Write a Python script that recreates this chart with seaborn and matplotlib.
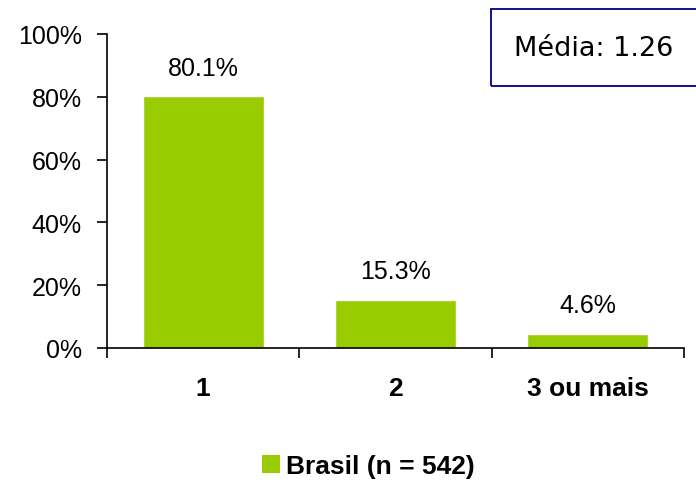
import matplotlib
matplotlib.use("Agg")
import matplotlib.pyplot as plt
import seaborn as sns
import pandas as pd
from matplotlib.patches import Rectangle, Patch
from matplotlib.ticker import FixedLocator, PercentFormatter

# Daten
categories = ["1", "2", "3 ou mais"]
values = [80.1, 15.3, 4.6]
series_name = "Brasil (n = 542)"
media_text = "Média: 1.26"
bar_color = "#99CC00"

df = pd.DataFrame({"cat": categories, "pct": values})

sns.set_style("white")
plt.rcParams["font.family"] = ["Liberation Sans", "DejaVu Sans"]
plt.rcParams["text.color"] = "black"
plt.rcParams["xtick.color"] = "black"
plt.rcParams["ytick.color"] = "black"

fig = plt.figure(figsize=(6.96, 4.81), dpi=100)
ax = fig.add_axes([107 / 696, 1 - 349 / 481, 577 / 696, 314 / 481])

sns.barplot(data=df, x="cat", y="pct", color=bar_color, width=0.63,
            saturation=1, ax=ax)

ax.set_xlim(-0.5, 2.5)
ax.set_ylim(0, 100)
ax.set_yticks(range(0, 101, 20))
ax.yaxis.set_major_formatter(PercentFormatter(decimals=0))
ax.tick_params(axis="y", labelsize=18, length=7, width=1.2, direction="out",
               left=True, pad=11, labelcolor="black")

# Kategorie-Trenner als Ticks, Beschriftung mittig
ax.xaxis.set_major_locator(FixedLocator([-0.5, 0.5, 1.5, 2.5]))
ax.xaxis.set_minor_locator(FixedLocator([0, 1, 2]))
ax.set_xticklabels([], minor=False)
ax.set_xticklabels(categories, minor=True, fontsize=19, fontweight="bold")
ax.tick_params(axis="x", which="major", length=7, width=1.2, bottom=True,
               direction="out")
ax.tick_params(axis="x", which="minor", length=0, pad=20, labelcolor="black")
ax.set_xlabel("")
ax.set_ylabel("")

for s in ["top", "right"]:
    ax.spines[s].set_visible(False)
for s in ["left", "bottom"]:
    ax.spines[s].set_color("black")
    ax.spines[s].set_linewidth(1.2)

for i, v in enumerate(values):
    ax.annotate(f"{v:.1f}%", (i, v), xytext=(0, 12), textcoords="offset points",
                ha="center", va="bottom", fontsize=18, color="black")

# Mittelwert-Box
fig.patches.append(Rectangle((491 / 696, 1 - 87 / 481), 0.4, 77 / 481,
                             transform=fig.transFigure, fill=False,
                             edgecolor="#000080", linewidth=1.3))
fig.text(594 / 696, 1 - 49 / 481, media_text, ha="center", va="center",
         fontsize=19.5, family=["DejaVu Sans"], color="black")

# Legende
fig.legend(handles=[Patch(facecolor=bar_color, edgecolor="none", label=series_name)],
           loc="center", bbox_to_anchor=(368 / 696, 1 - 467 / 481), frameon=False,
           prop={"size": 19, "weight": "bold"}, handlelength=0.7, handleheight=0.7,
           handletextpad=0.2, labelcolor="black")

fig.savefig("out.png", dpi=100)
